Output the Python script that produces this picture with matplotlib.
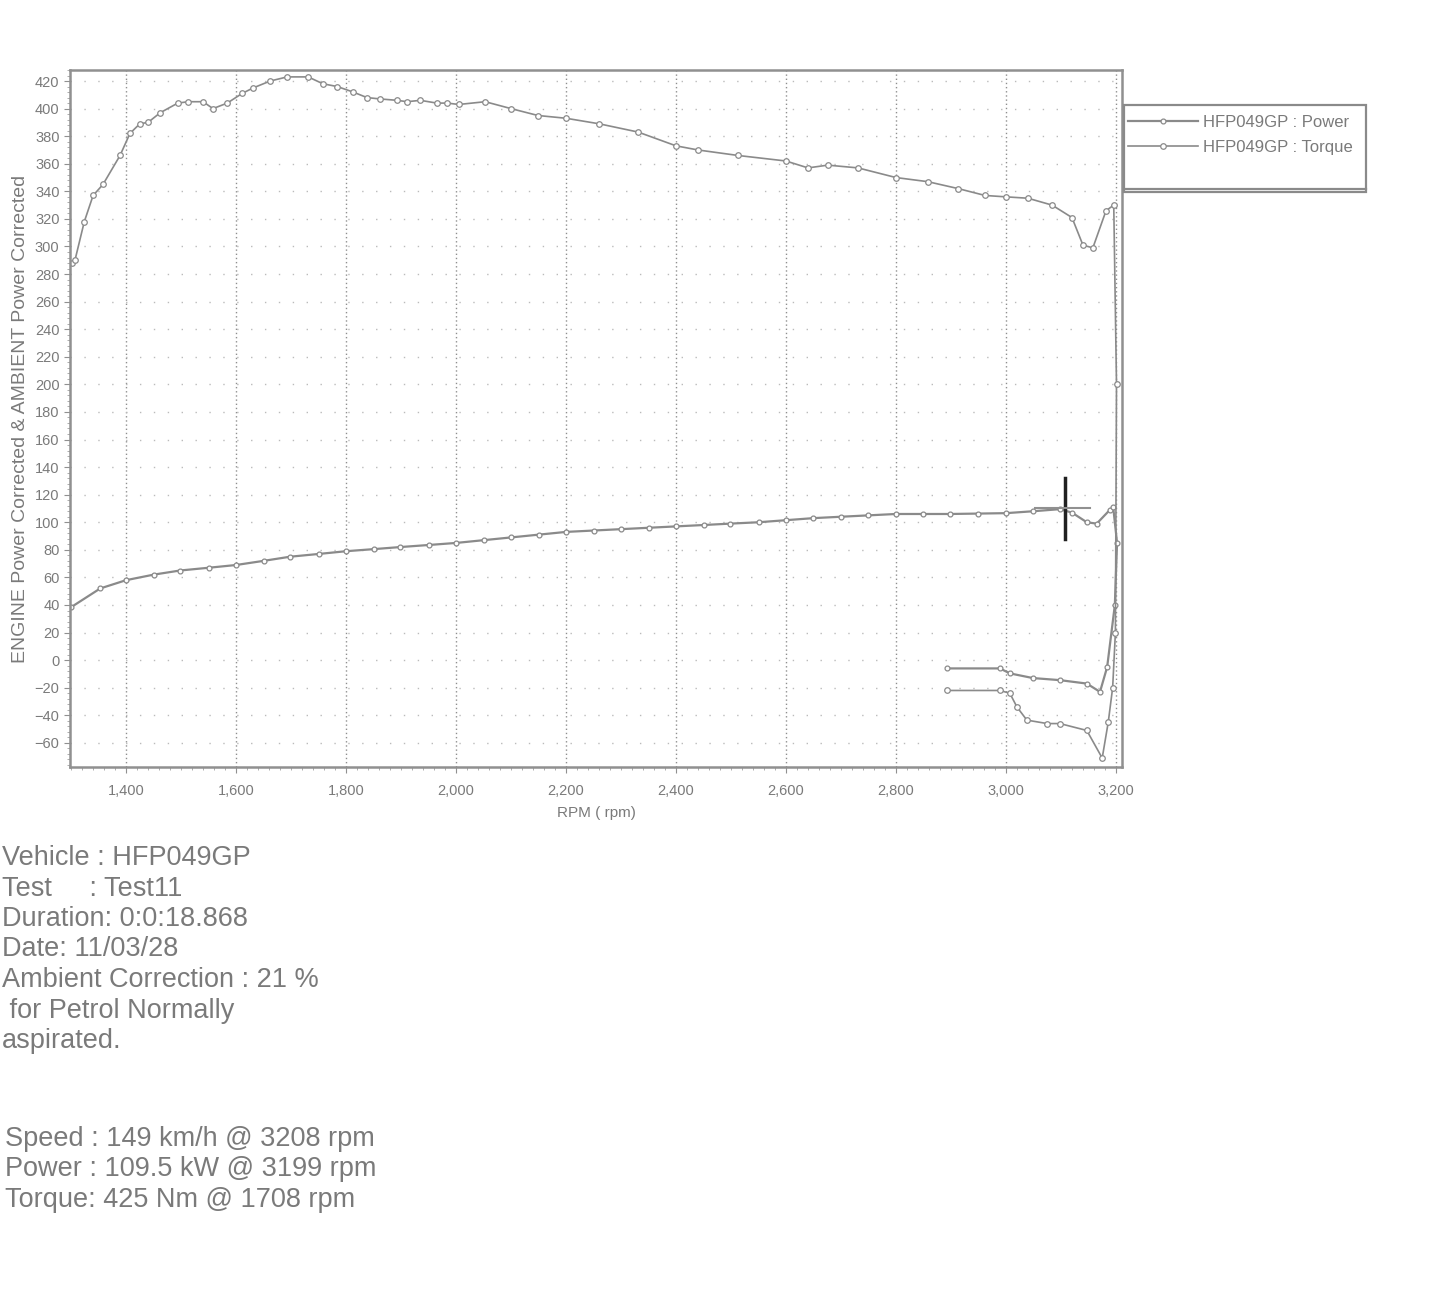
import matplotlib
matplotlib.use("Agg")
import matplotlib.pyplot as plt
from matplotlib.patches import Rectangle
from matplotlib.ticker import MultipleLocator, FuncFormatter

plt.rcParams['font.family'] = ['Liberation Sans', 'DejaVu Sans']

# torque curve (Nm) incl. coast-down tail
torque_rpm = [1302, 1307, 1324, 1340, 1358, 1389, 1407, 1425, 1440, 1462, 1494, 1513, 1540,
              1558, 1584, 1611, 1631, 1662, 1693, 1731, 1758, 1784, 1813, 1838, 1862, 1893,
              1911, 1935, 1965, 1984, 2005, 2053, 2100, 2149, 2200, 2260, 2331, 2400, 2440,
              2513, 2600, 2640, 2676, 2731, 2800, 2858, 2913, 2962, 3000, 3040, 3084, 3120,
              3140, 3158, 3182, 3196, 3201, 3199, 3194, 3186, 3175, 3147, 3098, 3075, 3038,
              3020, 3007, 2989, 2893]
torque_nm = [288, 290, 318, 337, 345, 366, 382, 389, 390, 397, 404, 405, 405,
             400, 404, 411, 415, 420, 423, 423, 418, 416, 412, 408, 407, 406,
             405, 406, 404, 404, 403, 405, 400, 395, 393, 389, 383, 373, 370,
             366, 362, 357, 359, 357, 350, 347, 342, 337, 336, 335, 330, 321,
             301, 299, 326, 330, 200, 20, -20, -45, -71, -51, -46, -46, -43.5,
             -34, -24, -22, -22]

# power curve (kW) incl. coast-down tail
power_rpm = [1300, 1353, 1400, 1450, 1498, 1550, 1600, 1650, 1698, 1750, 1800, 1850, 1898,
             1950, 2000, 2050, 2100, 2150, 2200, 2250, 2300, 2350, 2400, 2450, 2498, 2550,
             2600, 2650, 2700, 2750, 2800, 2850, 2898, 2950, 3000, 3050, 3098, 3120, 3147,
             3165, 3189, 3195, 3202, 3198, 3184, 3171, 3147, 3098, 3049, 3007, 2989, 2893]
power_kw = [38.4, 52, 58, 62, 65, 67, 69, 72, 75, 77, 79, 80.5, 82,
            83.5, 85, 87, 89, 91, 93, 94, 95, 96, 97, 98, 99, 100,
            101.5, 103, 104, 105, 106, 106, 106, 106.3, 106.6, 108, 109.5, 107, 100,
            99, 109, 111, 85, 40, -5, -23, -17, -14.5, -13, -9.6, -6, -6]

cursor_rpm = 3108
cursor_val = 110

info_lines = ["Vehicle : HFP049GP", "Test     : Test11", "Duration: 0:0:18.868",
              "Date: 11/03/28", "Ambient Correction : 21 %", " for Petrol Normally",
              "aspirated."]
peak_lines = ["Speed : 149 km/h @ 3208 rpm", "Power : 109.5 kW @ 3199 rpm",
              "Torque: 425 Nm @ 1708 rpm"]

W, H = 1442, 1296
fig = plt.figure(figsize=(W / 100, H / 100), dpi=100)
ax = fig.add_axes([70 / W, 1 - 767 / H, 1052 / W, 697 / H])

line_c = '#8a8a8a'
text_c = '#7a7a7a'

ax.plot(power_rpm, power_kw, color=line_c, lw=1.6, marker='o', ms=3.5, mfc='white',
        mec=line_c, mew=0.9, label='HFP049GP : Power')
ax.plot(torque_rpm, torque_nm, color=line_c, lw=1.2, marker='o', ms=4, mfc='white',
        mec=line_c, mew=0.9, label='HFP049GP : Torque')

# cursor cross
ax.plot([cursor_rpm, cursor_rpm], [cursor_val - 22, cursor_val + 22], color='#202020', lw=2.5)
ax.plot([cursor_rpm - 55, cursor_rpm + 45], [cursor_val, cursor_val], color='#909090', lw=1.5)

ax.set_xlim(1298, 3211)
ax.set_ylim(-77.5, 428)
ax.xaxis.set_major_locator(MultipleLocator(200))
ax.xaxis.set_minor_locator(MultipleLocator(20))
ax.yaxis.set_major_locator(MultipleLocator(20))
ax.yaxis.set_minor_locator(MultipleLocator(4))
ax.xaxis.set_major_formatter(FuncFormatter(lambda v, p: f"{int(v):,}"))

ax.grid(True, axis='x', which='major', color='#8f8f8f', ls=(0, (1, 2)), lw=1.0)
ax.grid(True, axis='y', which='major', color='#bbbbbb', ls=(0, (1, 9)), lw=1.0)

for s in ax.spines.values():
    s.set_color('#909090')
    s.set_linewidth(1.8)
    s.set_linestyle((0, (1, 1)))

ax.tick_params(axis='both', which='major', colors='#909090', labelcolor=text_c,
               labelsize=10.5, length=4)
ax.tick_params(axis='x', which='major', pad=8)
ax.tick_params(axis='both', which='minor', colors='#a0a0a0', length=2)

ax.set_xlabel("RPM ( rpm)", color=text_c, fontsize=11, labelpad=6)
ax.set_ylabel("ENGINE Power Corrected & AMBIENT Power Corrected", color=text_c,
              fontsize=14, labelpad=4)

# legend box outside the plot
box = Rectangle((1124 / W, 1 - 192 / H), 242 / W, 87 / H, transform=fig.transFigure,
                fill=False, ec='#8a8a8a', lw=1.6)
fig.patches.append(box)
fig.add_artist(plt.Line2D([1124 / W, 1366 / W], [1 - 189 / H, 1 - 189 / H],
                          transform=fig.transFigure, color='#8a8a8a', lw=1.6))
leg = ax.legend(loc='upper left', bbox_to_anchor=(1128 / W, 1 - 115 / H),
                bbox_transform=fig.transFigure, fontsize=12, frameon=False,
                handlelength=4.2, labelspacing=0.6, handletextpad=0.3, borderaxespad=0,
                borderpad=0)
for t in leg.get_texts():
    t.set_color(text_c)

for i, s in enumerate(info_lines):
    fig.text(2 / W, 1 - (858 + i * 30.5) / H, s, fontsize=19.5, color=text_c,
             va='center', ha='left')
for i, s in enumerate(peak_lines):
    fig.text(5 / W, 1 - (1139 + i * 30.5) / H, s, fontsize=19.5, color=text_c,
             va='center', ha='left')

fig.savefig("out.png", dpi=100, facecolor='white')
